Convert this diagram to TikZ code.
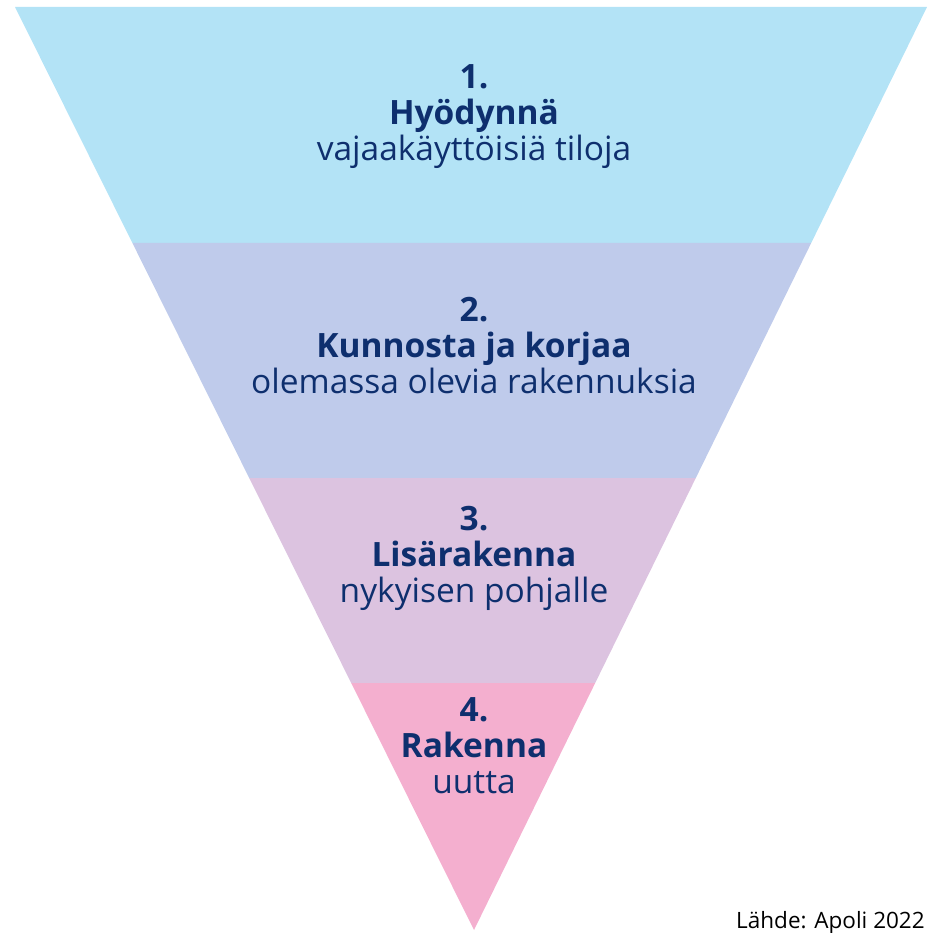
\documentclass[tikz,border=0pt]{standalone}
\usepackage{fontspec}
\setmainfont{Open Sans}
\definecolor{bandA}{HTML}{B3E3F6}
\definecolor{bandB}{HTML}{BFCBEB}
\definecolor{bandC}{HTML}{DCC3E0}
\definecolor{bandD}{HTML}{F4AFCF}
\definecolor{navy}{HTML}{0E2F6E}
\begin{document}
\begin{tikzpicture}[
  x=1pt, y=-1pt,
  label text/.style={text=navy, align=center, inner sep=0pt,
    font=\fontsize{33.5}{36}\selectfont},
]
\useasboundingbox (0,0) rectangle (934,933);
\fill[bandA] (15,7) -- (927,7) -- (811.2,243) -- (132.4,243) -- cycle;
\fill[bandB] (132.4,243) -- (811.2,243) -- (695.8,478) -- (249.2,478) -- cycle;
\fill[bandC] (249.2,478) -- (695.8,478) -- (595.2,683) -- (351.2,683) -- cycle;
\fill[bandD] (351.2,683) -- (595.2,683) -- (474,930) -- cycle;

\node[label text] (tier1) at (474,117)
  {\textbf{1.}\\\textbf{Hyödynnä}\\vajaakäyttöisiä tiloja};
\node[label text] (tier2) at (474,346)
  {\textbf{2.}\\\textbf{Kunnosta ja korjaa}\\olemassa olevia rakennuksia};
\node[label text] (tier3) at (474,558)
  {\textbf{3.}\\\textbf{Lisärakenna}\\nykyisen pohjalle};
\node[label text] (tier4) at (474,746)
  {\textbf{4.}\\\textbf{Rakenna}\\uutta};

\node[anchor=base west, inner sep=0pt, font=\fontsize{22.5}{26}\selectfont]
  (source) at (736,928) {Lähde: Apoli 2022};
\end{tikzpicture}
\end{document}
